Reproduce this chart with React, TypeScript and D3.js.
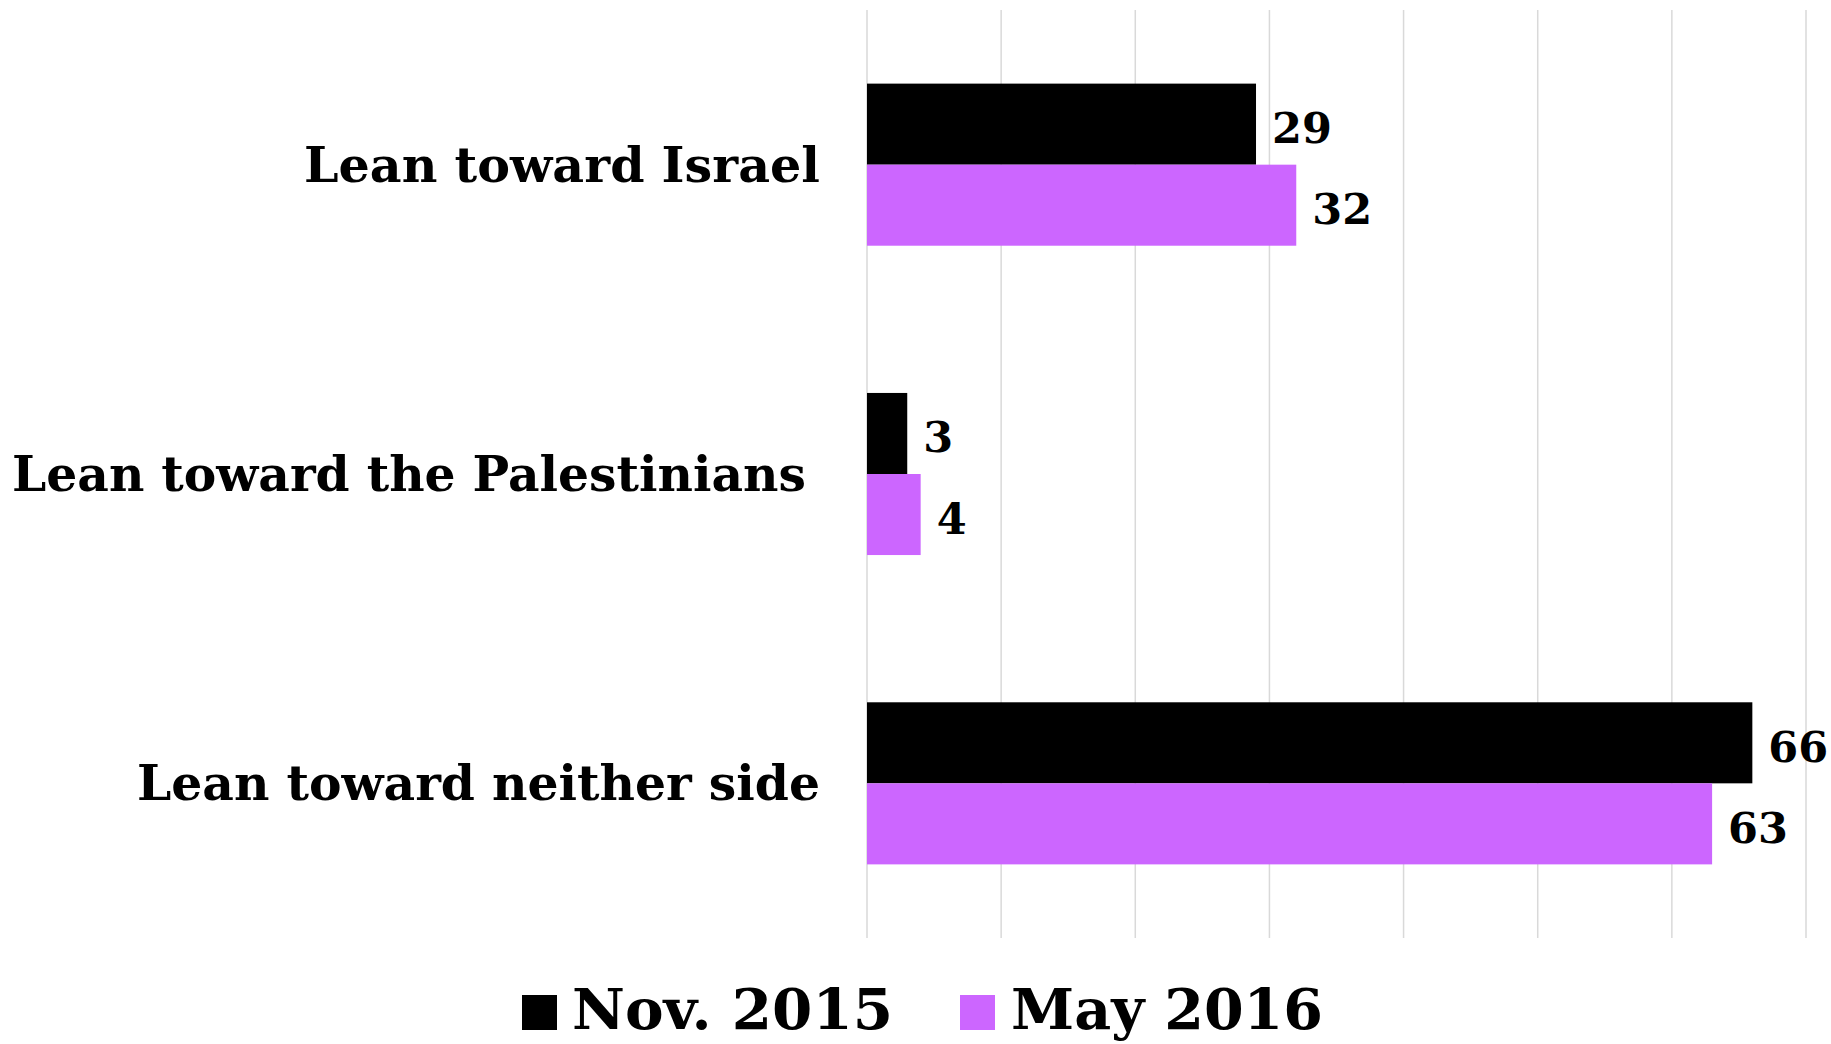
import React, { useEffect } from "react";
import * as d3 from "d3";

const categories = ["Lean toward Israel", "Lean toward the Palestinians", "Lean toward neither side"];
const seriesNames = ["Nov. 2015", "May 2016"];
const nov2015 = [29, 3, 66];
const may2016 = [32, 4, 63];
const seriesColors = ["#000000", "#CC66FF"];
const xTicks = [0, 10, 20, 30, 40, 50, 60, 70];

const W = 1831;
const H = 1044;
const FONT = "Georgia, 'DejaVu Serif', serif";

export default function App() {
  useEffect(() => {
    document.body.style.margin = "0";
  }, []);

  const plotLeft = 867;
  const plotRight = 1806;
  const plotTop = 10;
  const plotBottom = 938;

  const x = d3.scaleLinear().domain([0, 70]).range([plotLeft, plotRight]);
  const y = d3
    .scaleBand<string>()
    .domain(categories)
    .range([plotTop, plotBottom])
    .paddingInner(0.476)
    .paddingOuter(0.238);
  const inner = d3.scaleBand<string>().domain(seriesNames).range([0, y.bandwidth()]);
  const series = [nov2015, may2016];

  const labelLengths: Record<string, number> = {
    "Lean toward Israel": 516,
    "Lean toward the Palestinians": 794,
    "Lean toward neither side": 683,
  };
  const labelRight: Record<string, number> = {
    "Lean toward Israel": 820,
    "Lean toward the Palestinians": 806,
    "Lean toward neither side": 820,
  };

  return (
    <svg width={W} height={H} style={{ position: "absolute", left: 0, top: 0, display: "block" }}>
      <rect x={0} y={0} width={W} height={H} fill="#ffffff" />
      {xTicks.map((t) => (
        <line
          key={t}
          x1={x(t)}
          x2={x(t)}
          y1={plotTop}
          y2={plotBottom}
          stroke="#D9D9D9"
          strokeWidth={1.5}
        />
      ))}
      {categories.map((c, i) => {
        const cy = (y(c) as number) + y.bandwidth() / 2;
        return (
          <g key={c}>
            <text
              x={labelRight[c]}
              y={cy + 17}
              textAnchor="end"
              fontFamily={FONT}
              fontWeight="bold"
              fontSize={49}
              textLength={labelLengths[c]}
              lengthAdjust="spacingAndGlyphs"
              fill="#000"
            >
              {c}
            </text>
            {series.map((vals, si) => {
              const by = (y(c) as number) + (inner(seriesNames[si]) as number);
              const bh = inner.bandwidth();
              return (
                <g key={si}>
                  <rect
                    x={x(0)}
                    y={by}
                    width={x(vals[i]) - x(0)}
                    height={bh}
                    fill={seriesColors[si]}
                  />
                  <text
                    x={x(vals[i]) + 16}
                    y={by + bh / 2 + 19}
                    fontFamily={FONT}
                    fontWeight="bold"
                    fontSize={43}
                    fill="#000"
                  >
                    {vals[i]}
                  </text>
                </g>
              );
            })}
          </g>
        );
      })}
      {[
        { sx: 522, tx: 572, len: 321 },
        { sx: 960, tx: 1011, len: 312 },
      ].map((p, si) => (
        <g key={si}>
          <rect x={p.sx} y={995} width={35} height={35} fill={seriesColors[si]} />
          <text
            x={p.tx}
            y={1029}
            fontFamily={FONT}
            fontWeight="bold"
            fontSize={56}
            textLength={p.len}
            lengthAdjust="spacingAndGlyphs"
            fill="#000"
          >
            {seriesNames[si]}
          </text>
        </g>
      ))}
    </svg>
  );
}
